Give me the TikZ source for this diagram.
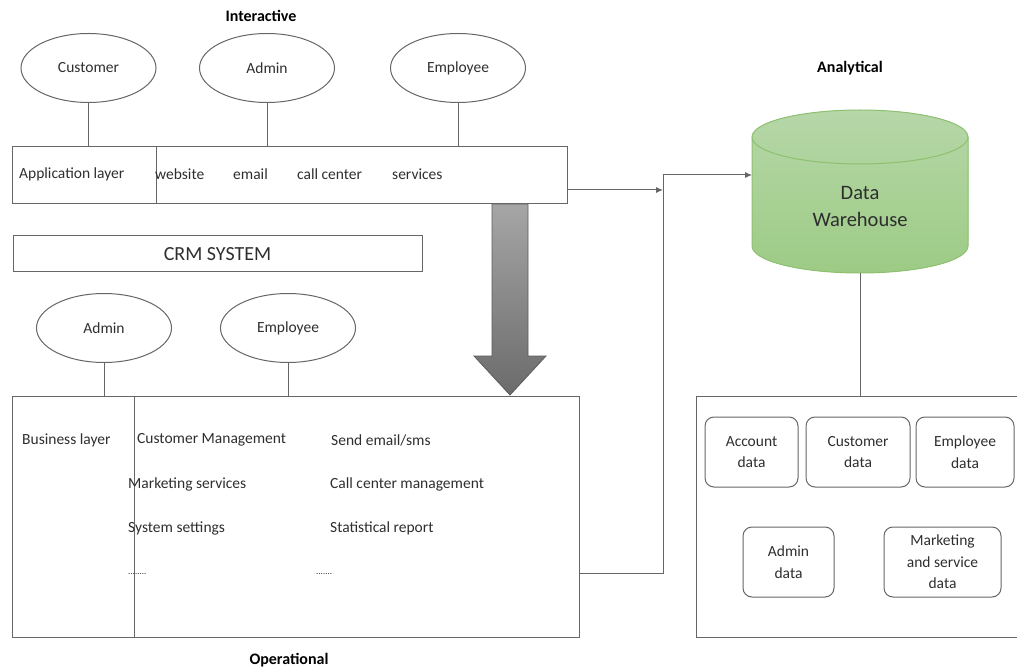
\documentclass[tikz,border=0pt]{standalone}
\usepackage{fontspec}
\setmainfont{Carlito}
\usetikzlibrary{shapes.geometric,arrows.meta,calc}
\definecolor{ln}{HTML}{666666}
\definecolor{tx}{HTML}{2E2E2E}
\definecolor{gtop}{HTML}{B6D7A8}
\definecolor{gbot}{HTML}{9DCB85}
\definecolor{gedge}{HTML}{8DC070}
\begin{document}
\begin{tikzpicture}[x=1pt,y=-1pt,
  every node/.style={text=tx,font=\fontsize{15.5}{20}\selectfont},
  actor/.style={draw=ln,line width=1pt,ellipse,minimum width=135pt,minimum height=69pt,inner sep=0pt},
  layerbox/.style={draw=ln,line width=1pt,rectangle,inner sep=0pt},
  databox/.style={draw=ln,line width=1pt,rectangle,rounded corners=9pt,inner sep=0pt,align=center,
     font=\fontsize{15.5}{21.5}\selectfont},
  lbl/.style={anchor=west,inner sep=0pt},
  head/.style={font=\bfseries\fontsize{16}{19}\selectfont,text=black},
  conn/.style={draw=ln,line width=1pt},
  arr/.style={conn,-{Latex[length=7pt,width=6pt]}}]
\useasboundingbox (0,0) rectangle (1017,668);

% ---------- Interactive ----------
\node[head] (hint) at (261,16) {Interactive};
\node[actor] (ecust) at (88.5,68) {Customer};
\node[actor] (eadm) at (267,68) {Admin};
\node[actor] (eemp) at (458,68) {Employee};

\node[layerbox,minimum width=555pt,minimum height=57pt] (app) at (289.5,175.5) {};
\coordinate (appdiv) at (156,147);
\draw[conn] (appdiv) -- (appdiv |- app.south);
\node[lbl] (tapp) at (19,174) {Application layer};
\node[lbl] (tweb) at (155,174) {website};
\node[lbl] (tmail) at (233,174) {email};
\node[lbl] (tcall) at (297,174) {call center};
\node[lbl] (tserv) at (392,174) {services};

\draw[conn] (ecust.south) -- (ecust.south |- app.north);
\draw[conn] (eadm.south) -- (eadm.south |- app.north);
\draw[conn] (eemp.south) -- (eemp.south |- app.north);

% ---------- CRM system ----------
\node[layerbox,minimum width=409pt,minimum height=36pt,font=\fontsize{20}{24}\selectfont] (crm) at (217.5,254) {CRM SYSTEM};

% ---------- big gray arrow ----------
\path[draw=ln!90!black,line width=0.8pt,top color=black!35,bottom color=black!58]
  (492,204) -- (528,204) -- (528,356) -- (546,356) -- (510,395) -- (474,356) -- (492,356) -- cycle;

% ---------- Operational ----------
\node[actor] (eadm2) at (104,328) {Admin};
\node[actor] (eemp2) at (288,328) {Employee};

\node[layerbox,minimum width=567pt,minimum height=241pt] (biz) at (295.5,516.5) {};
\coordinate (bizdiv) at (134,396);
\draw[conn] (bizdiv) -- (bizdiv |- biz.south);
\draw[conn] (eadm2.south) -- (eadm2.south |- biz.north);
\draw[conn] (eemp2.south) -- (eemp2.south |- biz.north);

\node[lbl] (tbiz) at (22,440) {Business layer};
\node[lbl] (tcm) at (137,440) {Customer Management};
\node[lbl] (tsend) at (331,440) {Send email/sms};
\node[lbl] (tmkt) at (128,484) {Marketing services};
\node[lbl] (tccm) at (330,484) {Call center management};
\node[lbl] (tsys) at (128,528) {System settings};
\node[lbl] (tstat) at (330,528) {Statistical report};
\node[lbl,font=\fontsize{9}{10}\selectfont] (tdot1) at (128,574) {........};
\node[lbl,font=\fontsize{9}{10}\selectfont] (tdot2) at (316,574) {.......};
\node[head] (hop) at (289,660) {Operational};

% ---------- Analytical ----------
\node[head] (hana) at (850,68) {Analytical};
\path[fill=gbot,top color=gtop,bottom color=gbot,draw=gedge,line width=1pt]
  (752,137) -- (752,246) arc[start angle=180,end angle=0,x radius=108,y radius=27]
  -- (968,137) arc[start angle=0,end angle=-180,x radius=108,y radius=27] -- cycle;
\draw[draw=gedge,line width=1pt] (752,137) arc[start angle=180,end angle=0,x radius=108,y radius=27];
\node[align=center,font=\fontsize{20.5}{27}\selectfont] (dw) at (860,206) {Data\\Warehouse};
\coordinate (dwbot) at (860,273);
\coordinate (dwin) at (752,175);

\node[layerbox,minimum width=330pt,minimum height=241pt] (store) at (861,516.5) {};
\draw[conn] (dwbot) -- (dwbot |- store.north);

\node[databox,minimum width=93pt,minimum height=70pt] (dacc) at (751.5,452) {Account\\data};
\node[databox,minimum width=104pt,minimum height=70pt] (dcus) at (858,452) {Customer\\data};
\node[databox,minimum width=98pt,minimum height=70pt] (demp) at (965,452) {Employee\\data};
\node[databox,minimum width=91pt,minimum height=70pt] (dadm) at (788.5,562) {Admin\\data};
\node[databox,minimum width=117pt,minimum height=70pt] (dmkt) at (942.5,562) {Marketing\\and service\\data};

% ---------- connectors ----------
\coordinate (j1) at (663,190);
\coordinate (j2) at (663,573);
\draw[arr] (app.east |- j1) -- (j1);
\draw[arr] (biz.east |- j2) -- (j2) -- (j2 |- dwin) -- (dwin);
\end{tikzpicture}
\end{document}
